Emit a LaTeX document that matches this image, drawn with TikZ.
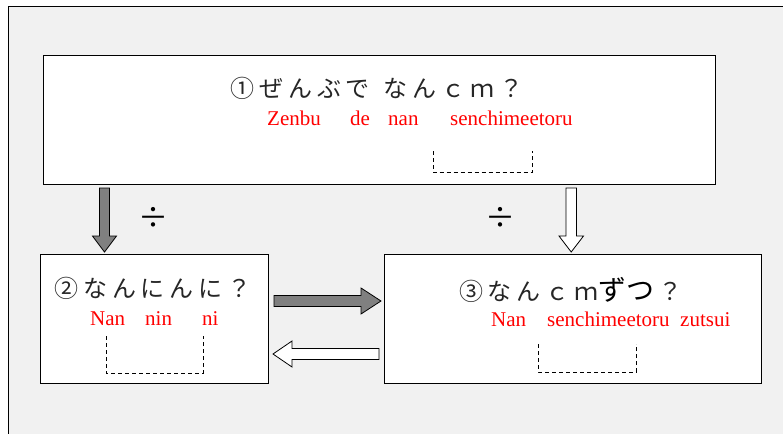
\documentclass[tikz,border=0pt]{standalone}
\usepackage{fontspec}
\setmainfont{Liberation Serif}
\newfontfamily\jpfont{Noto Sans CJK JP}
\definecolor{bggray}{HTML}{F1F1F1}
\definecolor{arrowgray}{HTML}{808080}
\definecolor{redtext}{HTML}{FF0000}
\begin{document}
\begin{tikzpicture}[x=1pt,y=-1pt,
  box/.style={draw=black, line width=1.1pt, fill=white, inner sep=0pt, outer sep=0pt, anchor=north west},
  jp/.style={font=\jpfont\addfontfeature{LetterSpace=20}\fontsize{24}{28}\selectfont, inner sep=0pt, text=black!85},
  rd/.style={text=redtext, font=\fontsize{21}{24}\selectfont, inner sep=0pt, anchor=base west},
  brk/.style={draw=black, line width=0.8pt, dash pattern=on 4pt off 3pt},
  garrow/.style={draw=black, line width=0.8pt, fill=arrowgray},
  warrow/.style={draw=black, line width=0.8pt, fill=white},
  divsign/.style={font=\jpfont\fontsize{30}{30}\selectfont, inner sep=0pt}
]
\useasboundingbox (0,0) rectangle (783,433);
\begin{scope}
\clip (0,0) rectangle (783,433);
\fill[white] (0,0) rectangle (783,433);
\draw[line width=1pt, fill=bggray] (8,7) rectangle (800,450);
\end{scope}

% boxes
\node[box, minimum width=672pt, minimum height=129pt] (b1) at (43.5,55.5) {};
\node[box, minimum width=228pt, minimum height=129pt] (b2) at (40.5,254.5) {};
\node[box, minimum width=377pt, minimum height=129pt] (b3) at (384.5,254.5) {};

% box 1 texts
\node[jp] (t1) at (377,88) {①ぜんぶで\hspace{14pt}なんｃｍ？};
\node[rd] (r1a) at (267,125) {Zenbu};
\node[rd] (r1b) at (350,125) {de};
\node[rd] (r1c) at (388,125) {nan};
\node[rd] (r1d) at (450,125) {senchimeetoru};
\draw[brk] (433,151) -- (433,172.5) -- (532,172.5) -- (532,151);

% box 2 texts
\node[jp] (t2) at (153,288) {②なんにんに？};
\node[rd] (r2a) at (90,325) {Nan};
\node[rd] (r2b) at (145,325) {nin};
\node[rd] (r2c) at (202,325) {ni};
\draw[brk] (106,336) -- (106,373) -- (203,373) -- (203,336);

% box 3 texts
\node[jp] (t3) at (571,290) {③なんｃｍ{\addfontfeature{LetterSpace=2}\fontsize{28}{28}\selectfont\color{black}ずつ}\hspace{4pt}？};
\node[rd] (r3a) at (491,326) {Nan};
\node[rd] (r3b) at (547,326) {senchimeetoru};
\node[rd] (r3c) at (680,326) {zutsui};
\draw[brk] (538,344) -- (538,372) -- (636,372) -- (636,344);

% division signs
\node[divsign] (d1) at (153,218) {÷};
\node[divsign] (d2) at (500,218) {÷};

% block arrows
\draw[garrow] (99.5,188) -- (109.5,188) -- (109.5,236) -- (116.5,236) -- (104.5,252) -- (92.5,236) -- (99.5,236) -- cycle;
\draw[warrow] (566,188) -- (576.5,188) -- (576.5,236) -- (583.5,236) -- (571.2,252) -- (559,236) -- (566,236) -- cycle;
\draw[garrow] (274,295.5) -- (361,295.5) -- (361,288) -- (381,301) -- (361,314) -- (361,306.5) -- (274,306.5) -- cycle;
\draw[warrow] (379,348.5) -- (292,348.5) -- (292,341) -- (273,354) -- (292,367) -- (292,359.5) -- (379,359.5) -- cycle;
\end{tikzpicture}
\end{document}
